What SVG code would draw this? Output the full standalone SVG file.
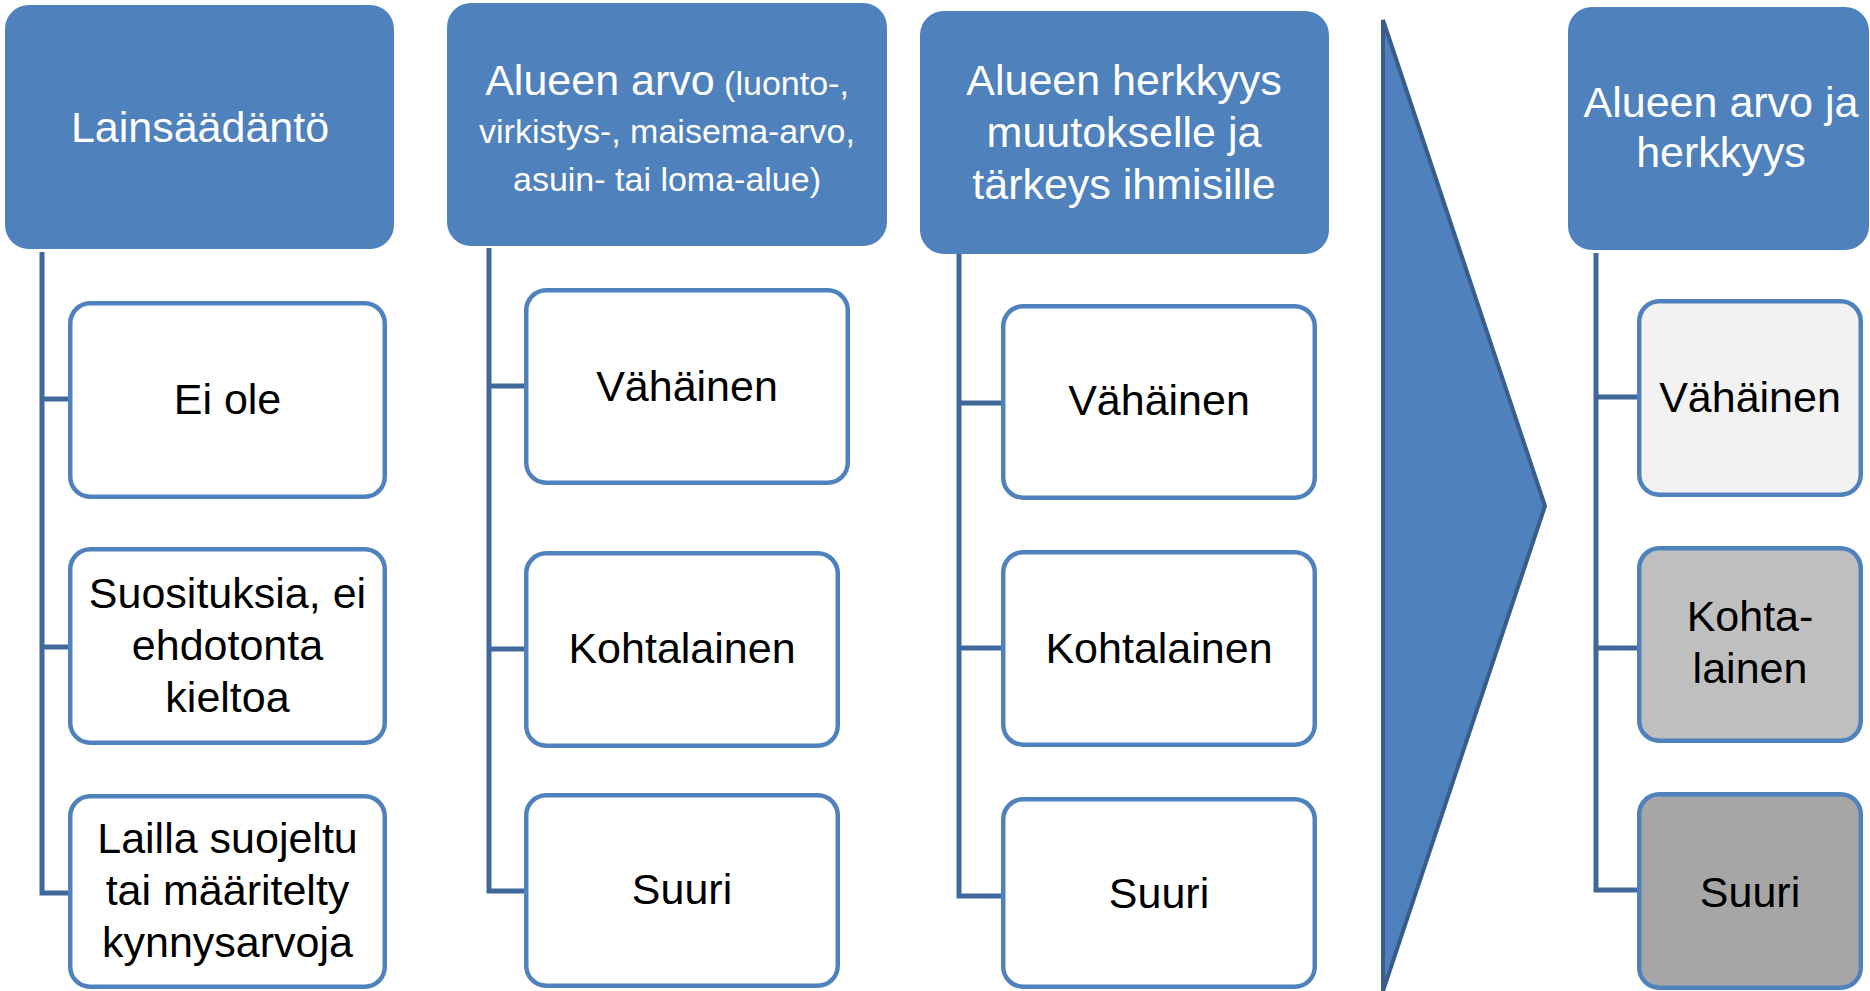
<svg xmlns="http://www.w3.org/2000/svg" width="1870" height="991" viewBox="0 0 1870 991">
<style>
.hdr{fill:#4F81BD;}
.hdrt{fill:#FFFFFF;font-family:"Liberation Sans",Arial,sans-serif;font-size:43px;text-anchor:middle;}
.sm{font-size:34px;}
.box{fill:#FFFFFF;stroke:#4F81BD;stroke-width:4.5;}
.t{fill:#000000;font-family:"Liberation Sans",Arial,sans-serif;font-size:43px;text-anchor:middle;}
.tree{fill:none;stroke:#41689A;stroke-width:5;}
</style>
<rect width="1870" height="991" fill="#FFFFFF"/>
<g id="connectors">
<path class="tree" d="M42,252 V893 H68 M42,399 H68 M42,647 H68"/>
<path class="tree" d="M489,248 V891 H524 M489,386 H524 M489,649 H524"/>
<path class="tree" d="M959,253 V896 H1001 M959,403 H1001 M959,648 H1001"/>
<path class="tree" d="M1596,253 V890 H1637 M1596,397 H1637 M1596,648 H1637"/>
</g>
<g id="arrow">
<polygon points="1383,20 1545,506 1383,991" fill="#4F81BD" stroke="#385D8A" stroke-width="4" stroke-linejoin="miter"/>
</g>
<g id="h1">
<rect class="hdr" x="5" y="5" width="389" height="244" rx="24"/>
<text class="hdrt" x="200" y="142">Lainsäädäntö</text>
</g>
<g id="h2">
<rect class="hdr" x="447" y="3" width="440" height="243" rx="24"/>
<text class="hdrt" x="667" y="95">Alueen arvo<tspan class="sm"> (luonto-,</tspan></text>
<text class="hdrt sm" x="667" y="143">virkistys-, maisema-arvo,</text>
<text class="hdrt sm" x="667" y="191">asuin- tai loma-alue)</text>
</g>
<g id="h3">
<rect class="hdr" x="920" y="11" width="409" height="243" rx="24"/>
<text class="hdrt" x="1124" y="95">Alueen herkkyys</text>
<text class="hdrt" x="1124" y="147">muutokselle ja</text>
<text class="hdrt" x="1124" y="199">tärkeys ihmisille</text>
</g>
<g id="h4">
<rect class="hdr" x="1568" y="7" width="301" height="243" rx="24"/>
<text class="hdrt" x="1721" y="117">Alueen arvo ja</text>
<text class="hdrt" x="1721" y="167">herkkyys</text>
</g>
<g id="c1a">
<rect class="box" x="70.25" y="303.25" width="314.5" height="193.5" rx="20"/>
<text class="t" x="227.5" y="414">Ei ole</text>
</g>
<g id="c1b">
<rect class="box" x="70.25" y="549.25" width="314.5" height="193.5" rx="20"/>
<text class="t" x="227.5" y="608">Suosituksia, ei</text>
<text class="t" x="227.5" y="660">ehdotonta</text>
<text class="t" x="227.5" y="712">kieltoa</text>
</g>
<g id="c1c">
<rect class="box" x="70.25" y="796.25" width="314.5" height="190.5" rx="20"/>
<text class="t" x="227.5" y="853">Lailla suojeltu</text>
<text class="t" x="227.5" y="905">tai määritelty</text>
<text class="t" x="227.5" y="957">kynnysarvoja</text>
</g>
<g id="c2a">
<rect class="box" x="526.25" y="290.25" width="321.5" height="192.5" rx="20"/>
<text class="t" x="687" y="401">Vähäinen</text>
</g>
<g id="c2b">
<rect class="box" x="526.25" y="553.25" width="311.5" height="192.5" rx="20"/>
<text class="t" x="682" y="663">Kohtalainen</text>
</g>
<g id="c2c">
<rect class="box" x="526.25" y="795.25" width="311.5" height="190.5" rx="20"/>
<text class="t" x="682" y="904">Suuri</text>
</g>
<g id="c3a">
<rect class="box" x="1003.25" y="306.25" width="311.5" height="191.5" rx="20"/>
<text class="t" x="1159" y="415">Vähäinen</text>
</g>
<g id="c3b">
<rect class="box" x="1003.25" y="552.25" width="311.5" height="192.5" rx="20"/>
<text class="t" x="1159" y="663">Kohtalainen</text>
</g>
<g id="c3c">
<rect class="box" x="1003.25" y="799.25" width="311.5" height="187.5" rx="20"/>
<text class="t" x="1159" y="908">Suuri</text>
</g>
<g id="c4a">
<rect class="box" x="1639.25" y="301.25" width="221.5" height="193.5" rx="20" style="fill:#F2F2F2"/>
<text class="t" x="1750" y="412">Vähäinen</text>
</g>
<g id="c4b">
<rect class="box" x="1639.25" y="548.25" width="221.5" height="192.5" rx="20" style="fill:#BFBFBF"/>
<text class="t" x="1750" y="631">Kohta-</text>
<text class="t" x="1750" y="683">lainen</text>
</g>
<g id="c4c">
<rect class="box" x="1639.25" y="794.25" width="221.5" height="193.5" rx="20" style="fill:#A6A6A6"/>
<text class="t" x="1750" y="907">Suuri</text>
</g>
</svg>
